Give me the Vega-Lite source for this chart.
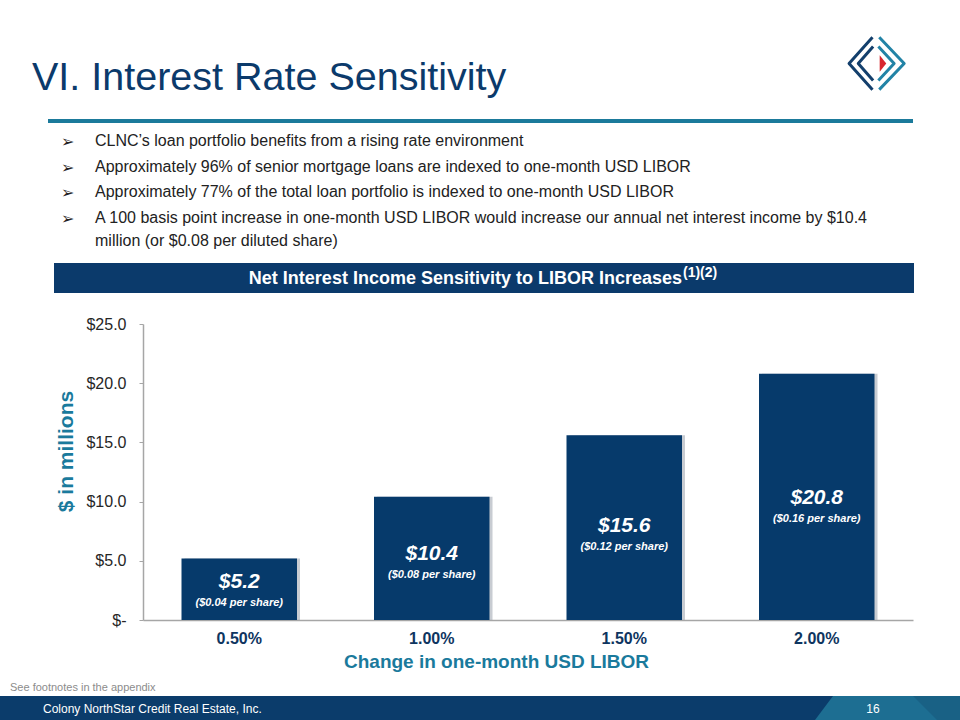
{
  "$schema": "https://vega.github.io/schema/vega-lite/v6.json",
  "background": "white",
  "padding": 0,
  "spacing": 0,
  "bounds": "full",
  "config": {"view": {"stroke": null}, "font": "Liberation Sans", "concat": {"spacing": 0}},
  "vconcat": [
    {
      "spacing": 0, "bounds": "full",
      "hconcat": [
        {"width": 32, "height": 119, "data": {"values": [{}]}, "mark": {"type": "rect", "opacity": 0}},
        {
          "spacing": 0, "bounds": "full",
          "vconcat": [
            {"width": 807, "height": 57, "data": {"values": [{}]}, "mark": {"type": "rect", "opacity": 0}},
            {
              "width": 807, "height": 33,
              "data": {"values": [{}]},
              "layer": [
                {"mark": {"type": "rect", "opacity": 0}},
                {
                  "mark": {"type": "text", "align": "left", "baseline": "alphabetic", "fontSize": 39.5, "color": "#0b3a6b"},
                  "encoding": {
                    "x": {"datum": 0, "type": "quantitative", "scale": {"domain": [0, 1]}, "axis": null},
                    "y": {"datum": 0, "type": "quantitative", "scale": {"domain": [0, 1]}, "axis": null},
                    "text": {"value": "VI. Interest Rate Sensitivity"}
                  }
                }
              ]
            }
          ]
        },
        {
          "spacing": 0, "bounds": "full",
          "vconcat": [
            {"width": 70, "height": 31, "data": {"values": [{}]}, "mark": {"type": "rect", "opacity": 0}},
            {
              "width": 70, "height": 63,
              "layer": [
                {"data": {"values": [{}]}, "mark": {"type": "rect", "opacity": 0}},
                {
                  "data": {"values": [
                    {"shape": "navyOuter", "o": 1, "x": 28.3, "y": 1.5},
                    {"shape": "navyOuter", "o": 2, "x": 1.5, "y": 28.5},
                    {"shape": "navyOuter", "o": 3, "x": 28.3, "y": 55.5},
                    {"shape": "navyInner", "o": 1, "x": 29, "y": 11},
                    {"shape": "navyInner", "o": 2, "x": 12, "y": 28.5},
                    {"shape": "navyInner", "o": 3, "x": 29, "y": 46},
                    {"shape": "tealOuter", "o": 1, "x": 36, "y": 1.5},
                    {"shape": "tealOuter", "o": 2, "x": 64.5, "y": 28.5},
                    {"shape": "tealOuter", "o": 3, "x": 36, "y": 55.5},
                    {"shape": "tealInner", "o": 1, "x": 35, "y": 11},
                    {"shape": "tealInner", "o": 2, "x": 53, "y": 28.5},
                    {"shape": "tealInner", "o": 3, "x": 35, "y": 46}
                  ]},
                  "mark": {"type": "line", "strokeWidth": 3, "strokeJoin": "round", "strokeCap": "butt"},
                  "encoding": {
                    "x": {"field": "x", "type": "quantitative", "scale": {"domain": [-2, 68]}, "axis": null},
                    "y": {"field": "y", "type": "quantitative", "scale": {"domain": [-3, 60], "reverse": true}, "axis": null},
                    "detail": {"field": "shape"},
                    "order": {"field": "o"},
                    "color": {"field": "shape", "type": "nominal", "legend": null,
                      "scale": {"domain": ["navyOuter", "navyInner", "tealOuter", "tealInner"], "range": ["#133f6c", "#133f6c", "#2283a6", "#2283a6"]}}
                  }
                },
                {
                  "data": {"values": [
                    {"x": 36.5, "y": 20, "y2": 37},
                    {"x": 44, "y": 28.5, "y2": 28.5}
                  ]},
                  "mark": {"type": "area", "color": "#d8262f"},
                  "encoding": {
                    "x": {"field": "x", "type": "quantitative"},
                    "y": {"field": "y", "type": "quantitative"},
                    "y2": {"field": "y2"}
                  }
                }
              ]
            },
            {"width": 70, "height": 25, "data": {"values": [{}]}, "mark": {"type": "rect", "opacity": 0}}
          ]
        }
      ]
    },
    {
      "spacing": 0, "bounds": "flush",
      "hconcat": [
        {"width": 48, "height": 4, "data": {"values": [{}]}, "mark": {"type": "rect", "opacity": 0}},
        {"width": 865, "height": 4, "data": {"values": [{}]}, "mark": {"type": "rect", "color": "#1b7a9b"}}
      ]
    },
    {
      "spacing": 0, "bounds": "flush",
      "hconcat": [
        {"width": 95, "height": 140, "data": {"values": [{}]}, "mark": {"type": "rect", "opacity": 0}},
        {
          "width": 800, "height": 140,
          "data": {"values": [
            {"i": 1, "t": "CLNC’s loan portfolio benefits from a rising rate environment"},
            {"i": 2, "t": "Approximately 96% of senior mortgage loans are indexed to one-month USD LIBOR"},
            {"i": 3, "t": "Approximately 77% of the total loan portfolio is indexed to one-month USD LIBOR"},
            {"i": 4, "t": ["A 100 basis point increase in one-month USD LIBOR would increase our annual net interest income by $10.4", "million (or $0.08 per diluted share)"]}
          ]},
          "encoding": {
            "x": {"datum": 0, "type": "quantitative", "scale": {"domain": [0, 1]}, "axis": null},
            "y": {"field": "i", "type": "quantitative", "scale": {"domain": [0.104, 5.558], "reverse": true, "nice": false, "zero": false}, "axis": null}
          },
          "layer": [
            {
              "mark": {"type": "text", "align": "left", "baseline": "alphabetic", "fontSize": 16, "color": "#222222", "lineHeight": 23},
              "encoding": {"text": {"field": "t"}}
            },
            {
              "mark": {"type": "text", "align": "left", "baseline": "alphabetic", "fontSize": 16, "color": "#222222", "dx": -34, "dy": 1, "font": "DejaVu Sans"},
              "encoding": {"text": {"value": "➢"}}
            }
          ]
        }
      ]
    },
    {
      "spacing": 0, "bounds": "flush",
      "hconcat": [
        {"width": 54, "height": 30, "data": {"values": [{}]}, "mark": {"type": "rect", "opacity": 0}},
        {
          "width": 860, "height": 30,
          "data": {"values": [{}]},
          "layer": [
            {"mark": {"type": "rect", "color": "#0b3a6b"}},
            {
              "mark": {"type": "text", "align": "right", "baseline": "middle", "dx": 198, "dy": 1, "fontSize": 18, "fontWeight": "bold", "color": "white"},
              "encoding": {
                "x": {"datum": 0.5, "type": "quantitative", "scale": {"domain": [0, 1]}, "axis": null},
                "y": {"datum": 0.5, "type": "quantitative", "scale": {"domain": [0, 1]}, "axis": null},
                "text": {"value": "Net Interest Income Sensitivity to LIBOR Increases"}
              }
            },
            {
              "mark": {"type": "text", "align": "left", "baseline": "middle", "dx": 199, "dy": -5, "fontSize": 14, "fontWeight": "bold", "color": "white"},
              "encoding": {
                "x": {"datum": 0.5, "type": "quantitative", "scale": {"domain": [0, 1]}, "axis": null},
                "y": {"datum": 0.5, "type": "quantitative", "scale": {"domain": [0, 1]}, "axis": null},
                "text": {"value": "(1)(2)"}
              }
            }
          ]
        }
      ]
    },
    {"width": 1, "height": 23, "data": {"values": [{}]}, "mark": {"type": "rect", "opacity": 0}},
    {
      "spacing": 0, "bounds": "flush",
      "hconcat": [
        {"width": 143, "height": 296, "data": {"values": [{}]}, "mark": {"type": "rect", "opacity": 0}},
        {
          "width": 770, "height": 296,
          "data": {"values": [
            {"change": "0.50%", "value": 5.2, "label": "$5.2", "per": "($0.04 per share)"},
            {"change": "1.00%", "value": 10.4, "label": "$10.4", "per": "($0.08 per share)"},
            {"change": "1.50%", "value": 15.6, "label": "$15.6", "per": "($0.12 per share)"},
            {"change": "2.00%", "value": 20.8, "label": "$20.8", "per": "($0.16 per share)"}
          ]},
          "encoding": {
            "x": {"field": "change", "type": "ordinal", "sort": null,
              "scale": {"paddingInner": 0.4, "paddingOuter": 0.2},
              "axis": {"title": "Change in one-month USD LIBOR", "labelAngle": 0, "ticks": false, "tickSize": 0,
                "domainColor": "#a6a6a6", "domainWidth": 1.5,
                "labelFontSize": 16, "labelFontWeight": "bold", "labelColor": "#0e3560", "labelPadding": 10,
                "titleFontSize": 19, "titleFontWeight": "bold", "titleColor": "#1a7a9c", "titlePadding": 6, "titleX": 353}}
          },
          "layer": [
            {
              "encoding": {
                "y": {"field": "value", "type": "quantitative", "scale": {"domain": [0, 25]},
                  "axis": {"title": "$ in millions", "values": [0, 5, 10, 15, 20, 25],
                    "labelExpr": "datum.value == 0 ? '$-' : '$' + format(datum.value, '.1f')",
                    "grid": false, "tickSize": 4, "tickColor": "#a6a6a6", "domainColor": "#a6a6a6", "domainWidth": 1.5,
                    "labelFontSize": 16, "labelColor": "#262626", "labelPadding": 13,
                    "titleFontSize": 21, "titleFontWeight": "bold", "titleColor": "#1a7a9c",
                    "titleX": -77, "titleY": 127, "titleAngle": -90, "titleBaseline": "middle", "titleAlign": "center"}}
              },
              "layer": [
                {"mark": {"type": "bar", "color": "#9aa3ad", "opacity": 0.55, "xOffset": 3}},
                {"mark": {"type": "bar", "color": "#063a6b"}}
              ]
            },
            {
              "encoding": {
                "y": {"field": "value", "type": "quantitative", "scale": {"domain": [0, 55]}, "axis": null}
              },
              "layer": [
                {
                  "mark": {"type": "text", "color": "white", "fontSize": 21, "fontStyle": "italic", "fontWeight": "bold", "baseline": "middle", "dy": -10},
                  "encoding": {"text": {"field": "label"}}
                },
                {
                  "mark": {"type": "text", "color": "white", "fontSize": 11, "fontStyle": "italic", "fontWeight": "bold", "baseline": "middle", "dy": 11},
                  "encoding": {"text": {"field": "per"}}
                }
              ]
            }
          ],
          "resolve": {"scale": {"y": "independent"}}
        }
      ]
    },
    {"width": 1, "height": 11, "data": {"values": [{}]}, "mark": {"type": "rect", "opacity": 0}},
    {
      "spacing": 0, "bounds": "flush",
      "hconcat": [
        {"width": 10, "height": 12, "data": {"values": [{}]}, "mark": {"type": "rect", "opacity": 0}},
        {
          "width": 300, "height": 12,
          "data": {"values": [{}]},
          "layer": [
            {"mark": {"type": "rect", "opacity": 0}},
            {
              "mark": {"type": "text", "align": "left", "baseline": "middle", "fontSize": 11, "color": "#8c8c8c"},
              "encoding": {
                "x": {"datum": 0, "type": "quantitative", "scale": {"domain": [0, 1]}, "axis": null},
                "y": {"datum": 0.5, "type": "quantitative", "scale": {"domain": [0, 1]}, "axis": null},
                "text": {"value": "See footnotes in the appendix"}
              }
            }
          ]
        }
      ]
    },
    {"width": 1, "height": 2, "data": {"values": [{}]}, "mark": {"type": "rect", "opacity": 0}},
    {
      "spacing": 0, "bounds": "flush",
      "hconcat": [
        {"width": 43, "height": 24, "data": {"values": [{}]}, "mark": {"type": "rect", "color": "#0b3c6b"}},
        {
          "width": 772, "height": 24,
          "data": {"values": [{}]},
          "layer": [
            {"mark": {"type": "rect", "color": "#0b3c6b"}},
            {
              "mark": {"type": "text", "align": "left", "baseline": "middle", "fontSize": 12, "color": "white", "dy": 1},
              "encoding": {
                "x": {"datum": 0, "type": "quantitative", "scale": {"domain": [0, 1]}, "axis": null},
                "y": {"datum": 0.5, "type": "quantitative", "scale": {"domain": [0, 1]}, "axis": null},
                "text": {"value": "Colony NorthStar Credit Real Estate, Inc."}
              }
            }
          ]
        },
        {
          "width": 18, "height": 24,
          "layer": [
            {"data": {"values": [{}]}, "mark": {"type": "rect", "color": "#0b3c6b"}},
            {
              "data": {"values": [{"a": 0, "b": 0}, {"a": 1, "b": 1}]},
              "mark": {"type": "area", "color": "#1d6e92"},
              "encoding": {
                "x": {"field": "a", "type": "quantitative", "scale": {"domain": [0, 1]}, "axis": null},
                "y": {"field": "b", "type": "quantitative", "scale": {"domain": [0, 1]}, "axis": null}
              }
            }
          ]
        },
        {
          "width": 80, "height": 24,
          "data": {"values": [{}]},
          "layer": [
            {"mark": {"type": "rect", "color": "#1d6e92"}},
            {
              "mark": {"type": "text", "align": "center", "baseline": "middle", "fontSize": 12, "color": "white", "dy": 1},
              "encoding": {
                "x": {"datum": 0.5, "type": "quantitative", "scale": {"domain": [0, 1]}, "axis": null},
                "y": {"datum": 0.5, "type": "quantitative", "scale": {"domain": [0, 1]}, "axis": null},
                "text": {"value": "16"}
              }
            }
          ]
        },
        {
          "width": 24, "height": 24,
          "layer": [
            {"data": {"values": [{}]}, "mark": {"type": "rect", "color": "#1d6e92"}},
            {
              "data": {"values": [{"a": 0, "b": 1}, {"a": 1, "b": 0}]},
              "mark": {"type": "area", "color": "#196185"},
              "encoding": {
                "x": {"field": "a", "type": "quantitative", "scale": {"domain": [0, 1]}, "axis": null},
                "y": {"field": "b", "type": "quantitative", "scale": {"domain": [0, 1]}, "axis": null},
                "y2": {"datum": 1}
              }
            }
          ]
        },
        {"width": 23, "height": 24, "data": {"values": [{}]}, "mark": {"type": "rect", "color": "#196185"}}
      ]
    }
  ]
}
